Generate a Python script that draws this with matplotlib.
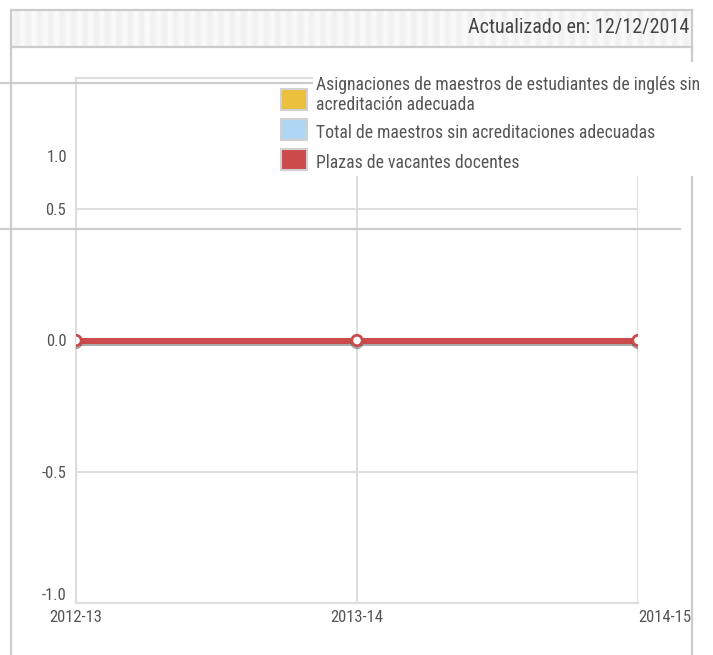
import numpy as np
import matplotlib
matplotlib.use("Agg")
import matplotlib.pyplot as plt
import matplotlib.patheffects as pe
from matplotlib.lines import Line2D
from matplotlib.patches import Rectangle

plt.rcParams['font.family'] = ['Roboto Condensed', 'DejaVu Sans']

# data
years = ['2012-13', '2013-14', '2014-15']
el_sin_acred = [0, 0, 0]
total_sin_acred = [0, 0, 0]
vacantes = [0, 0, 0]
series_names = ['Asignaciones de maestros de estudiantes de inglés sin\nacreditación adecuada',
                'Total de maestros sin acreditaciones adecuadas',
                'Plazas de vacantes docentes']
series_colors = ['#EBC03F', '#AED6F5', '#CC4A4A']
y_ticks = [-1.0, -0.5, 0.0, 0.5]
updated = 'Actualizado en: 12/12/2014'

W, H = 713, 655
fig = plt.figure(figsize=(W / 100, H / 100), dpi=100)
fig.patch.set_facecolor('white')


def fx(x):
    return x / W


def fy(y):
    return 1 - y / H


ax = fig.add_axes([fx(76), fy(603), fx(638) - fx(76), fy(78) - fy(603)])
x = np.arange(len(years))
grid_c = '#dedede'
txt_c = '#555555'

for vals, col in zip([el_sin_acred, total_sin_acred], series_colors[:2]):
    ax.plot(x, vals, color=col, lw=4.3, zorder=3)
ax.plot(x, vacantes, color=series_colors[2], lw=4.3, zorder=4,
        marker='o', markersize=7.5, markerfacecolor='white',
        markeredgecolor=series_colors[2], markeredgewidth=2,
        path_effects=[pe.SimpleLineShadow(offset=(0, -1.5), shadow_color='#444444', alpha=0.45),
                      pe.Normal()])

ax.set_xlim(0, len(years) - 1)
ax.set_ylim(-1, 1)
ax.set_xticks(x)
ax.set_xticklabels(years)
ax.set_yticks(y_ticks)
ax.set_yticklabels(['%.1f' % v for v in y_ticks])
ax.grid(True, color=grid_c, lw=1.5, zorder=0)
ax.set_axisbelow(True)
for s in ['left', 'bottom', 'top']:
    ax.spines[s].set_color(grid_c)
    ax.spines[s].set_linewidth(1.5)
ax.spines['right'].set_visible(False)
ax.tick_params(length=0, colors=txt_c, labelsize=12)
ax.tick_params(axis='y', pad=7)
ax.tick_params(axis='x', pad=5)
ax.get_yticklabels()[0].set_va('bottom')
ax.get_xticklabels()[-1].set_ha('left')

# header band with light stripes
hax = fig.add_axes([fx(11), fy(47), fx(692) - fx(11), fy(10) - fy(47)])
stripes = 0.96 + 0.018 * np.cos(np.linspace(0, 2 * np.pi * 60, 1200))
hax.imshow(np.tile(stripes, (10, 1)), cmap='gray', vmin=0, vmax=1, aspect='auto')
hax.axis('off')

border = '#cccccc'
for (x0, y0, x1, y1) in [(11, 10, 692, 10), (11, 47, 692, 47), (11, 10, 11, 655),
                         (692, 10, 692, 655), (0, 83, 313, 83), (0, 229, 680, 229)]:
    fig.add_artist(Line2D([fx(x0), fx(x1)], [fy(y0), fy(y1)], color=border, lw=1.6, zorder=2))

fig.text(fx(689), fy(28), updated, ha='right', va='center', fontsize=14.5, color='#444444', zorder=6)

# legend box
fig.add_artist(Rectangle((fx(313), fy(176)), fx(713) - fx(313), fy(62) - fy(176),
                         facecolor='white', edgecolor='none', zorder=3))
for i, (name, col) in enumerate(zip(series_names, series_colors)):
    top = 89 + 30 * i
    fig.add_artist(Rectangle((fx(281), fy(top + 21)), fx(26), 21 / H, facecolor=col,
                             edgecolor='#d0d0d0', lw=1.5, zorder=4))
legend_y = [95, 133, 163]
for name, yy in zip(series_names, legend_y):
    fig.text(fx(316), fy(yy), name, ha='left', va='center', fontsize=12.7,
             color=txt_c, linespacing=1.1, zorder=6)

fig.text(fx(67), fy(157), '1.0', ha='right', va='center', fontsize=12, color=txt_c, zorder=6)

fig.savefig('out.png', dpi=100)
